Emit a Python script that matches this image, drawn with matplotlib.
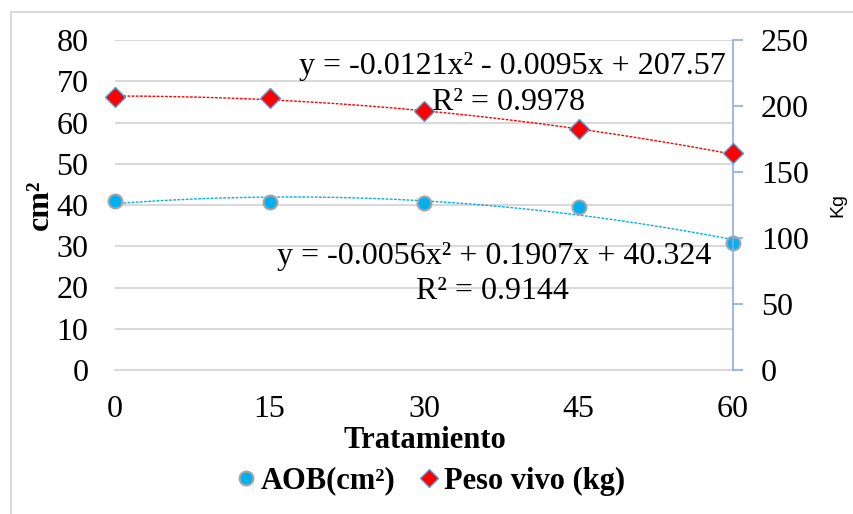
import numpy as np
import matplotlib
matplotlib.use("Agg")
import matplotlib.pyplot as plt
from matplotlib.lines import Line2D

# Data
tratamiento = [0, 15, 30, 45, 60]
aob_cm2 = [41.0, 40.7, 40.5, 39.4, 30.8]
peso_kg = [206.8, 206.0, 196.2, 182.6, 164.4]

# Trendline coefficients as printed on the chart (a*x^2 + b*x + c)
aob_fit = [-0.0056, 0.1907, 40.324]
peso_fit = [-0.0121, -0.0095, 207.57]
aob_eq = "y = -0.0056x\u00b2 + 0.1907x + 40.324"
aob_r2 = "R\u00b2 = 0.9144"
peso_eq = "y = -0.0121x\u00b2 - 0.0095x + 207.57"
peso_r2 = "R\u00b2 = 0.9978"

serif = "Liberation Serif"
cyan = "#00B0F0"
red = "#FF0000"
grid_c = "#D9D9D9"
spine_c = "#8FAADC"
fs = 23

W, H = 854, 514
fig = plt.figure(figsize=(W / 100, H / 100), dpi=100)
ax = fig.add_axes([115 / W, 1 - 370 / H, (733 - 115) / W, 330 / H])
ax2 = ax.twinx()

xs = np.linspace(0, 60, 200)
ax.plot(xs, np.polyval(aob_fit, xs), color=cyan, lw=1.0, ls=(0, (2, 1)), zorder=2)
ax2.plot(xs, np.polyval(peso_fit, xs), color=red, lw=1.0, ls=(0, (2, 1)), zorder=2)

ax.plot(tratamiento, aob_cm2, ls="none", marker="o", ms=10, mfc=cyan,
        mec="#A5A5A5", mew=1.5, clip_on=False, zorder=5)
ax2.plot(tratamiento, peso_kg, ls="none", marker="D", ms=10, mfc=red,
         mec="#5B9BD5", mew=1.0, clip_on=False, zorder=5)

ax.set_xlim(0, 60)
ax.set_ylim(0, 80)
ax2.set_ylim(0, 250)
ax.set_xticks(tratamiento)
ax.set_yticks(range(0, 81, 10))
ax2.set_yticks(range(0, 251, 50))
ax.yaxis.grid(True, color=grid_c, lw=1.5)
ax.set_axisbelow(True)

for s in ["top", "right", "left", "bottom"]:
    ax.spines[s].set_visible(False)
    ax2.spines[s].set_visible(False)
ax.spines["bottom"].set_visible(True)
ax.spines["bottom"].set_color(grid_c)
ax.spines["bottom"].set_linewidth(1.5)
ax2.spines["right"].set_visible(True)
ax2.spines["right"].set_color(spine_c)
ax2.spines["right"].set_linewidth(1.2)

ax.tick_params(axis="x", length=0, pad=18, labelsize=fs)
ax.tick_params(axis="y", length=0, pad=19, labelsize=fs)
ax2.tick_params(axis="y", length=7, width=1.2, color=spine_c, pad=13, labelsize=fs)
for lab in ax.get_xticklabels() + ax.get_yticklabels() + ax2.get_yticklabels():
    lab.set_fontfamily(serif)

# trendline labels
ax.text(38.6, 73.5, peso_eq, ha="center", va="center", fontsize=fs, family=serif, zorder=6)
ax.text(38.2, 64.8, peso_r2, ha="center", va="center", fontsize=fs, family=serif, zorder=6)
ax.text(36.8, 27.5, aob_eq, ha="center", va="center", fontsize=fs, family=serif, zorder=6)
ax.text(36.6, 19.0, aob_r2, ha="center", va="center", fontsize=fs, family=serif, zorder=6)

fig.text(40 / W, 1 - 205 / H, "cm\u00b2", rotation=90, ha="center", va="center",
         fontsize=fs, fontweight="bold", family=serif)
fig.text(838 / W, 1 - 205 / H, "Kg", rotation=90, ha="center", va="center",
         fontsize=14, family="Liberation Sans")
fig.text(425 / W, 1 - 441 / H, "Tratamiento", ha="center", va="center",
         fontsize=22, fontweight="bold", family=serif)

handles = [
    Line2D([], [], ls="none", marker="o", ms=10, mfc=cyan, mec="#A5A5A5", mew=1.5),
    Line2D([], [], ls="none", marker="D", ms=9, mfc=red, mec="#5B9BD5", mew=1.0),
]
fig.legend(handles, ["AOB(cm\u00b2)", "Peso vivo (kg)"], loc="center",
           bbox_to_anchor=(431 / W, 1 - 481 / H), ncol=2, frameon=False,
           prop={"family": serif, "weight": "bold", "size": 22},
           handlelength=0.6, handletextpad=0.2, columnspacing=0.8,
           borderpad=0, borderaxespad=0)

# outer chart frame (only top and left edges show in the crop)
fig.add_artist(Line2D([11 / W, 1], [1 - 12 / H, 1 - 12 / H], color=grid_c, lw=1.5))
fig.add_artist(Line2D([11 / W, 11 / W], [0, 1 - 12 / H], color=grid_c, lw=1.5))

fig.savefig("out.png", dpi=100, facecolor="white")
